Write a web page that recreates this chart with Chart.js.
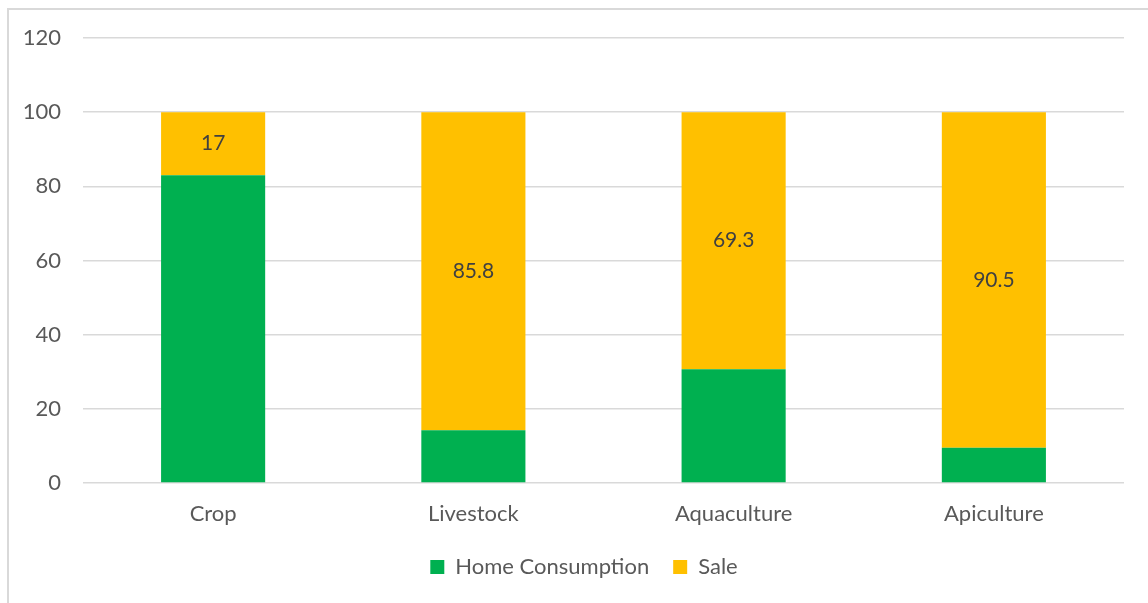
<!DOCTYPE html>
<html>
<head>
<meta charset="utf-8">
<script src="https://cdn.jsdelivr.net/npm/chart.js@4/dist/chart.umd.min.js"></script>
<style>
  html, body { margin: 0; padding: 0; background: #fff; overflow: hidden; }
  #frame { position: absolute; left: 7px; top: 8px; width: 1200px; height: 700px; border: 2px solid #d9d9d9; }
  #wrap { position: absolute; left: 0; top: 0; width: 1148px; height: 603px; }
</style>
</head>
<body>
<div id="frame"></div>
<div id="wrap"><canvas id="chart"></canvas></div>
<script>
const categories = ["Crop", "Livestock", "Aquaculture", "Apiculture"];
const homeConsumption = [83, 14.2, 30.7, 9.5];
const sale = [17, 85.8, 69.3, 90.5];
const yTicks = [0, 20, 40, 60, 80, 100, 120];

const fontFamily = "Lato, 'Open Sans', sans-serif";
const textColor = "#595959";

// draw value labels centred inside the Sale segments
const saleLabels = {
  id: "saleLabels",
  afterLayout(chart) {
    // legend sits a little right of the plot centre in the original
    chart.legend.left += 22;
    chart.legend.right += 22;
  },
  afterDatasetsDraw(chart) {
    const ctx = chart.ctx;
    const meta = chart.getDatasetMeta(1);
    ctx.save();
    ctx.font = "21px " + fontFamily;
    ctx.fillStyle = "#404040";
    ctx.textAlign = "center";
    ctx.textBaseline = "middle";
    meta.data.forEach((bar, i) => {
      const mid = (bar.y + bar.base) / 2;
      ctx.fillText(String(sale[i]), bar.x, mid);
    });
    ctx.restore();
  }
};

new Chart(document.getElementById("chart"), {
  type: "bar",
  data: {
    labels: categories,
    datasets: [
      { label: "Home Consumption", data: homeConsumption, backgroundColor: "#00B050", categoryPercentage: 1, barPercentage: 0.4 },
      { label: "Sale", data: sale, backgroundColor: "#FFC000", categoryPercentage: 1, barPercentage: 0.4 }
    ]
  },
  options: {
    responsive: true,
    maintainAspectRatio: false,
    animation: false,
    layout: { padding: { top: 38, right: 24, left: 0, bottom: 15 } },
    scales: {
      x: {
        stacked: true,
        grid: { display: false },
        border: { display: false },
        ticks: { color: textColor, font: { family: fontFamily, size: 22 }, padding: 10 },
        afterFit: scale => { scale.height = 49; }
      },
      y: {
        stacked: true,
        min: 0,
        max: 120,
        afterBuildTicks: scale => { scale.ticks = yTicks.map(v => ({ value: v })); },
        grid: { color: "#d9d9d9", lineWidth: 1.5, drawTicks: false },
        border: { display: false },
        ticks: { color: textColor, font: { family: fontFamily, size: 22 }, padding: 22 },
        afterFit: scale => { scale.width = 83; }
      }
    },
    plugins: {
      legend: {
        position: "bottom",
        labels: { color: textColor, font: { family: fontFamily, size: 22 }, boxWidth: 14, boxHeight: 14, padding: 24 }
      },
      tooltip: { enabled: false }
    }
  },
  plugins: [saleLabels]
});
</script>
</body>
</html>
